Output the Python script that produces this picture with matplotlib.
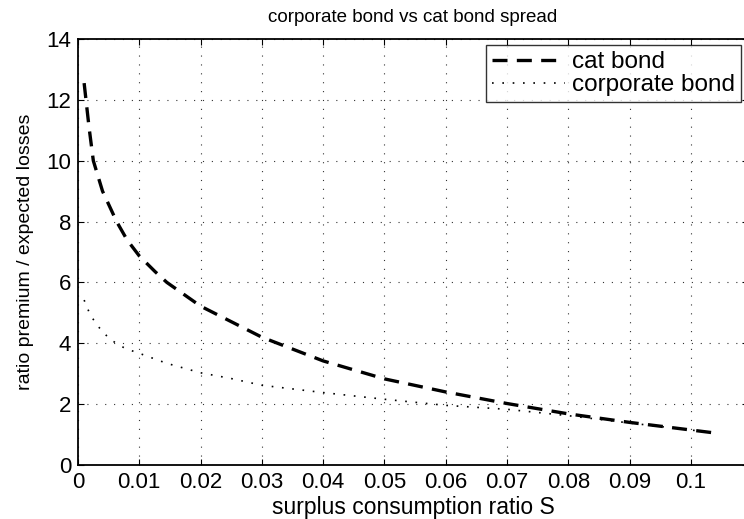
import matplotlib.pyplot as plt

# surplus consumption ratio S
s_cat = [0.001, 0.0018, 0.0025, 0.004, 0.0063, 0.008, 0.01, 0.0126, 0.0145, 0.02, 0.03, 0.04,
         0.05, 0.06, 0.07, 0.08, 0.09, 0.1, 0.1036]
cat_bond = [12.55, 11.1, 10.0, 9.0, 8.0, 7.4, 6.87, 6.35, 6.0, 5.22, 4.2, 3.42,
            2.83, 2.40, 2.02, 1.68, 1.40, 1.15, 1.06]

s_corp = [0.001, 0.002, 0.0033, 0.0052, 0.0077, 0.01, 0.0145, 0.02, 0.0248, 0.03,
          0.04, 0.05, 0.06, 0.07, 0.08, 0.09, 0.1, 0.1036]
corp_bond = [5.42, 4.93, 4.55, 4.13, 3.83, 3.67, 3.34, 3.03, 2.85, 2.62,
             2.38, 2.16, 1.96, 1.83, 1.62, 1.38, 1.15, 1.06]

xticks = [0, 0.01, 0.02, 0.03, 0.04, 0.05, 0.06, 0.07, 0.08, 0.09, 0.1]
xticklabels = ['0', '0.01', '0.02', '0.03', '0.04', '0.05', '0.06', '0.07', '0.08', '0.09', '0.1']
yticks = [0, 2, 4, 6, 8, 10, 12, 14]

plt.rcParams['font.family'] = ['Liberation Sans', 'DejaVu Sans']

fig = plt.figure(figsize=(7.44, 5.19), dpi=100)
ax = fig.add_axes([78 / 744, 54 / 519, 670 / 744, 426 / 519])

ax.plot(s_cat, cat_bond, color='black', linestyle=(0, (4.5, 2.8)), linewidth=2.4, label='cat bond')
ax.plot(s_corp, corp_bond, color='black', linestyle=(0, (1, 5.2)), linewidth=1.2, label='corporate bond')

ax.set_xlim(0, 670 / 6130)
ax.set_ylim(0, 14)
ax.set_xticks(xticks)
ax.set_xticklabels(xticklabels)
ax.set_yticks(yticks)
ax.tick_params(direction='in', length=4, width=0.8, labelsize=16, pad=5,
               top=True, right=True)
ax.grid(True, color='#333333', linestyle=(0, (1, 7)), linewidth=0.8)
for sp in ax.spines.values():
    sp.set_linewidth(1.3)

ax.set_title('corporate bond vs cat bond spread', fontsize=13.5, pad=12)
ax.set_xlabel('surplus consumption ratio S', fontsize=16.5, labelpad=2)
ax.set_ylabel('ratio premium / expected losses', fontsize=14, labelpad=9)

leg = ax.legend(loc='upper right', bbox_to_anchor=(741 / 744, (519 - 45) / 519),
                bbox_transform=fig.transFigure,
                fontsize=17.5, frameon=True, fancybox=False, handlelength=3.0,
                borderpad=0.25, labelspacing=0.05, handletextpad=0.3, borderaxespad=0)
leg.get_frame().set_edgecolor('black')
leg.get_frame().set_linewidth(1.0)

plt.savefig('out.png', dpi=100)
